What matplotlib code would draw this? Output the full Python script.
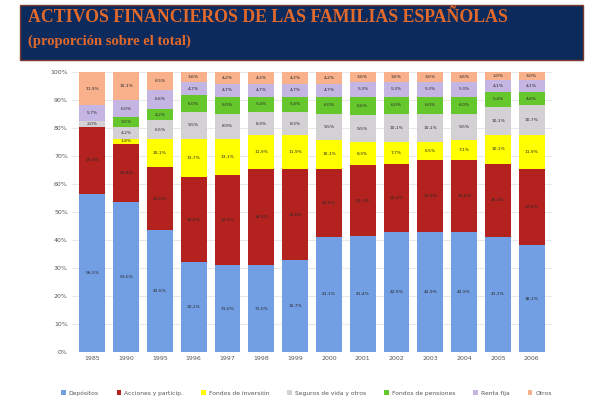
import numpy as np
import matplotlib
matplotlib.use("Agg")
from matplotlib import pyplot as plt
from matplotlib.patches import Rectangle

# years on the x axis (tick labels too small to read, best guess)
years = ["1985", "1990", "1995", "1996", "1997", "1998", "1999",
         "2000", "2001", "2002", "2003", "2004", "2005", "2006"]

# share of total, %, stacked bottom -> top
depositos = [56.5, 53.6, 43.5, 32.1, 31.0, 31.0, 32.7, 41.1, 41.4, 42.9, 42.9, 42.9, 41.1, 38.1]
acciones = [23.9, 20.8, 22.6, 30.4, 32.1, 34.5, 32.8, 24.4, 25.3, 24.4, 25.6, 25.6, 26.2, 27.4]
fondos_inv = [0.0, 1.8, 10.1, 13.7, 13.1, 11.9, 11.9, 10.1, 8.3, 7.7, 6.5, 7.1, 10.1, 11.9]
seguros = [2.0, 4.2, 6.5, 9.5, 8.9, 8.3, 8.3, 9.5, 9.5, 10.1, 10.1, 9.5, 10.1, 10.7]
pensiones = [0.0, 3.5, 4.2, 6.0, 6.0, 5.4, 5.4, 6.0, 6.6, 6.0, 6.0, 6.0, 5.4, 4.8]
renta_fija = [5.7, 6.0, 6.6, 4.7, 4.7, 4.7, 4.7, 4.7, 5.3, 5.3, 5.3, 5.3, 4.1, 4.1]
otros = [11.9, 10.1, 6.5, 3.6, 4.2, 4.2, 4.2, 4.2, 3.6, 3.6, 3.6, 3.6, 3.0, 3.0]

series_names = ["Depósitos", "Acciones y particip.", "Fondos de inversión",
                "Seguros de vida y otros", "Fondos de pensiones", "Renta fija", "Otros"]
series_values = [depositos, acciones, fondos_inv, seguros, pensiones, renta_fija, otros]
colors = ["#729ee3", "#b3221e", "#ffff00", "#d3d1d4", "#66c72c", "#c4b5e3", "#f8b18b"]

fig = plt.figure(figsize=(5.89, 4.0), dpi=100)

# title banner
fig.patches.append(Rectangle((20 / 589, 1 - 60 / 400), 563 / 589, 55 / 400,
                             transform=fig.transFigure, facecolor="#0d2a5c",
                             edgecolor="#7a3b2e", linewidth=1.0, zorder=0))
fig.text(28 / 589, 1 - 18 / 400, "ACTIVOS FINANCIEROS DE LAS FAMILIAS ESPAÑOLAS",
         color="#e0692b", fontsize=12.8, fontweight="bold",
         family="Liberation Serif", va="center", ha="left")
fig.text(28 / 589, 1 - 41 / 400, "(proporción sobre el total)",
         color="#e0692b", fontsize=10.5, fontweight="bold",
         family="Liberation Serif", va="center", ha="left")

ax = fig.add_axes([72 / 589, 48 / 400, 480 / 589, 280 / 400])
x = np.arange(len(years))
bottom = np.zeros(len(years))
for name, vals, col in zip(series_names, series_values, colors):
    vals = np.array(vals)
    bars = ax.bar(x, vals, 0.76, bottom=bottom, color=col, label=name, zorder=2)
    labels = [f"{v:.1f}%".replace(".", ",") if v > 0 else "" for v in vals]
    ax.bar_label(bars, labels=labels, label_type="center", fontsize=3.2, color="#2a2a2a")
    bottom += vals

ax.set_ylim(0, 100)
ax.set_xlim(-0.6, len(years) - 0.4)
ax.set_yticks(np.arange(0, 101, 10))
ax.set_yticklabels([f"{t}%" for t in range(0, 101, 10)], fontsize=4.5, color="#555555")
ax.set_xticks(x)
ax.set_xticklabels(years, fontsize=4.5, color="#555555")
ax.tick_params(length=0, pad=3)
ax.grid(axis="y", color="#e4e4e4", linewidth=0.6, zorder=0)
for s in ax.spines.values():
    s.set_visible(False)

fig.legend(loc="center", bbox_to_anchor=(0.52, 1 - 393 / 400), ncol=7, fontsize=4.3,
           frameon=False, handlelength=0.8, handleheight=0.8, columnspacing=3.0,
           handletextpad=0.5, labelcolor="#555555")

plt.savefig("out.png", dpi=100)
